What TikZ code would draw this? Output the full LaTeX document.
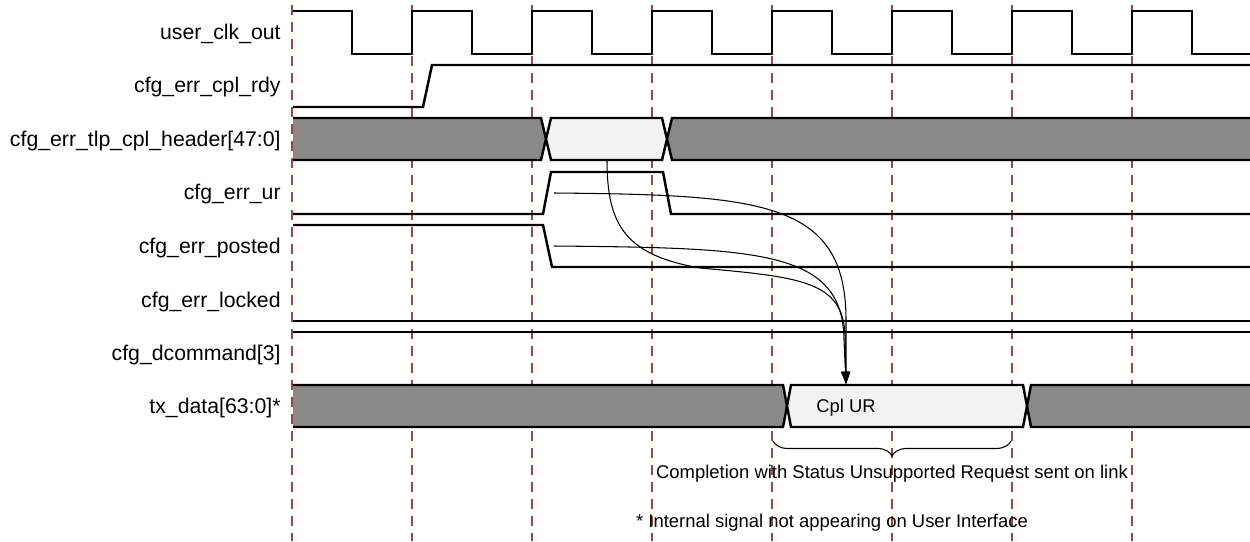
\documentclass[tikz,border=0pt]{standalone}
\usepackage{fontspec}
\setmainfont{Liberation Sans}
\usetikzlibrary{arrows.meta,decorations.pathreplacing}
\definecolor{gridred}{HTML}{9A4848}
\definecolor{busgray}{HTML}{898989}
\definecolor{buslite}{HTML}{F2F2F2}

\begin{document}
\begin{tikzpicture}[x=0.02cm,y=-0.02cm,
  lbl/.style={anchor=east,inner sep=0pt,font=\fontsize{12.1}{14}\selectfont},
  txt/.style={inner sep=0pt,font=\fontsize{10.5}{13}\selectfont},
  grid/.style={gridred,line width=0.7pt,dash pattern=on 5.7pt off 4pt},
  wave/.style={line width=1.4pt,line join=miter},
  busd/.style={fill=busgray},
  busl/.style={fill=buslite},
  a/.style={-{Triangle[length=7pt,width=5pt]},line width=0.6pt}]
\useasboundingbox (0,0) rectangle (1250,541);
% --- clock grid ---
\foreach \x in {292,412,...,1132} \draw[grid] (\x,5) -- (\x,541);
% --- signal names ---
\node[lbl] (lclk) at (281,34) {user\_clk\_out};
\node[lbl] (lrdy) at (281,87.5) {cfg\_err\_cpl\_rdy};
\node[lbl] (lhdr) at (281,141) {cfg\_err\_tlp\_cpl\_header[47:0]};
\node[lbl] (lur) at (281,194.5) {cfg\_err\_ur};
\node[lbl] (lpost) at (281,248) {cfg\_err\_posted};
\node[lbl] (llock) at (281,301.5) {cfg\_err\_locked};
\node[lbl] (ldcmd) at (281,355) {cfg\_dcommand[3]};
\node[lbl] (ltx) at (281,408) {tx\_data[63:0]*};
% --- single-bit waves ---
\draw[wave] (293,11) \foreach \x in {352,472,...,1072} { -- (\x,11) -- (\x,54) -- ({\x+60},54) -- ({\x+60},11) } -- (1192,11) -- (1192,54) -- (1250,54);
\draw[wave] (293,107) -- (423,107) -- (432,65) -- (1250,65);
\draw[wave] (293,214) -- (543,214) -- (551,172) -- (663,172) -- (671,214) -- (1250,214);
\draw[wave] (293,225) -- (543,225) -- (552,267) -- (1250,267);
\draw[wave] (293,321) -- (1250,321);
\draw[wave] (293,332) -- (1250,332);
% --- header bus ---
\fill[busd] (293,118) -- (541,118) -- (546,139) -- (541,160) -- (293,160) -- cycle;
\draw[wave] (293,118) -- (541,118) -- (546,139) -- (541,160) -- (293,160);
\filldraw[wave,busl] (546,139) -- (551,118) -- (662,118) -- (667,139) -- (662,160) -- (551,160) -- cycle;
\fill[busd] (1250,118) -- (672,118) -- (667,139) -- (672,160) -- (1250,160) -- cycle;
\draw[wave] (1250,118) -- (672,118) -- (667,139) -- (672,160) -- (1250,160);
% --- tx_data bus ---
\fill[busd] (293,385) -- (783,385) -- (787,406) -- (783,427) -- (293,427) -- cycle;
\draw[wave] (293,385) -- (783,385) -- (787,406) -- (783,427) -- (293,427);
\filldraw[wave,busl] (787,406) -- (791,385) -- (1023,385) -- (1027,406) -- (1023,427) -- (791,427) -- cycle;
\fill[busd] (1250,385) -- (1031,385) -- (1027,406) -- (1031,427) -- (1250,427) -- cycle;
\draw[wave] (1250,385) -- (1031,385) -- (1027,406) -- (1031,427) -- (1250,427);
\node[txt] (cpl) at (846,408) {Cpl UR};
% --- cause arrows ---
\coordinate (hdrout) at (607,160);
\coordinate (urout) at (554,193);
\coordinate (postout) at (554,246);
\coordinate (cplin) at (846,384);
\draw[a] (hdrout) .. controls (607,225) and (625,255) .. (700,268) .. controls (800,277) and (843,281) .. (845,335) -- (cplin);
\draw[a] (urout) .. controls (760,195) and (846,200) .. (846,320) -- (cplin);
\draw[a] (postout) .. controls (760,248) and (843,250) .. (844,340) -- (cplin);
% --- notes ---
\coordinate (bl) at (773,441);
\coordinate (br) at (1011,441);
\draw[line width=0.6pt,decorate,decoration={brace,mirror,amplitude=8.5pt}] (bl) -- (br);
\node[txt] (note) at (892,474) {Completion with Status Unsupported Request sent on link};
\node[txt] (foot) at (832,522.5) {* Internal signal not appearing on User Interface};
\end{tikzpicture}
\end{document}
